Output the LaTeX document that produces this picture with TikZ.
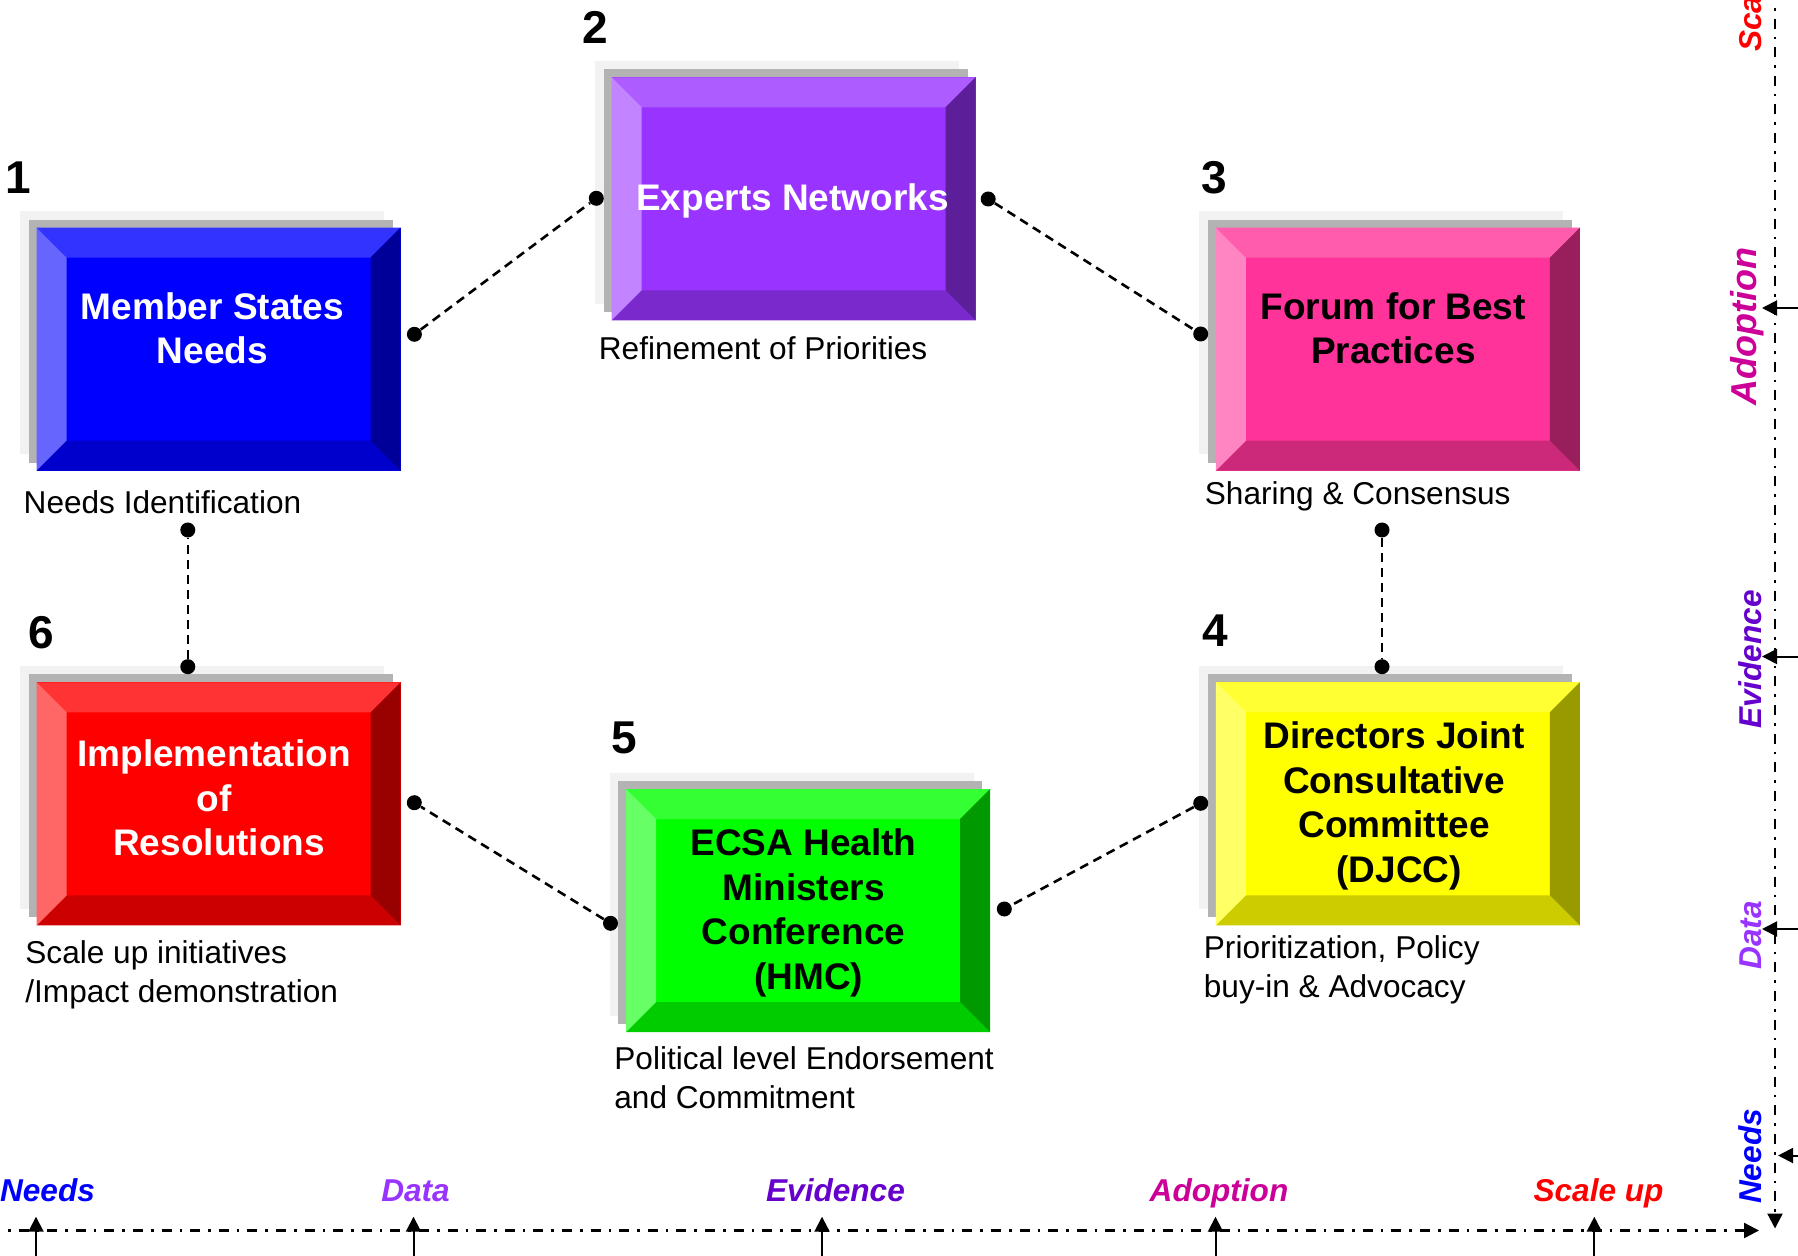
\documentclass[tikz,border=0pt]{standalone}
\usepackage{fontspec}
\setmainfont{Liberation Sans}
\usetikzlibrary{arrows.meta}
\definecolor{cblue}{HTML}{0000FF}
\definecolor{cpurple}{HTML}{9933FF}
\definecolor{cpink}{HTML}{FF3399}
\definecolor{cyellow}{HTML}{FFFF00}
\definecolor{cgreen}{HTML}{00FF00}
\definecolor{cred}{HTML}{FF0000}
\definecolor{shlight}{HTML}{F2F2F2}
\definecolor{shdark}{HTML}{B3B3B3}
\definecolor{levid}{HTML}{6600CC}
\definecolor{ladopt}{HTML}{CC0099}
\newcommand{\bevelbox}[4]{%
  \fill[shlight] ({#2-16.5},{#3-16.3}) rectangle ++(364,243);
  \fill[shdark] ({#2-8},{#3-8}) rectangle ++(364,243);
  \node[boxmain, fill=#4] (#1) at (#2,#3) {};
  \fill[#4!80!white] (#2,#3) -- ++(364,0) -- ++(-30,30) -- ++(-304,0) -- cycle;
  \fill[#4!80!black] (#2,{#3+243}) -- ++(364,0) -- ++(-30,-30) -- ++(-304,0) -- cycle;
  \fill[#4!60!white] (#2,#3) -- ++(30,30) -- ++(0,183) -- ++(-30,30) -- cycle;
  \fill[#4!60!black] ({#2+364},#3) -- ++(-30,30) -- ++(0,183) -- ++(30,30) -- cycle;
}
\begin{document}
\begin{tikzpicture}[x=0.5pt,y=-0.5pt,
  boxmain/.style={rectangle,minimum width=182pt,minimum height=121.5pt,inner sep=0pt,outer sep=0pt,anchor=north west},
  boxtxt/.style={font=\fontsize{18.5pt}{22.25pt}\selectfont\bfseries,align=center,inner sep=0pt},
  num/.style={font=\fontsize{23pt}{27pt}\selectfont\bfseries,anchor=base west,inner sep=0pt},
  lab/.style={font=\fontsize{15.8pt}{19.25pt}\selectfont,align=left,anchor=north west,inner sep=0pt},
  axlab/.style={font=\fontsize{15.8pt}{19pt}\selectfont\bfseries\itshape,anchor=base,inner sep=0pt},
  connDot/.style={circle,fill=black,inner sep=0pt,minimum size=7.5pt},
  conn/.style={line width=1.3pt,dash pattern=on 4.5pt off 3pt},
  axisline/.style={line width=1.2pt,dash pattern=on 5pt off 4pt on 1.3pt off 4pt},
  axisend/.style={axisline,-{Triangle[length=7.5pt,width=7.5pt]}},
  markarrow/.style={line width=1pt,-{Triangle[length=7.5pt,width=7.5pt]}}
]
\useasboundingbox (0,0) rectangle (1798,1256);
\clip (0,0) rectangle (1798,1256);
\fill[white] (0,0) rectangle (1798,1256);

% boxes
\bevelbox{b1}{36.5}{227.7}{cblue}
\bevelbox{b2}{611.6}{77.3}{cpurple}
\bevelbox{b3}{1215.8}{227.7}{cpink}
\bevelbox{b4}{1215.8}{682.3}{cyellow}
\bevelbox{b5}{626}{789}{cgreen}
\bevelbox{b6}{36.7}{682.3}{cred}

% box texts
\node[boxtxt,text=white] (t1) at (212.5,332.7) {Member States\strut\\Needs\strut};
\node[boxtxt,text=white] (t2) at (792.5,201.4) {Experts Networks\strut};
\node[boxtxt] (t3) at (1393.3,332.7) {Forum for Best\strut\\Practices\strut};
\node[boxtxt] (t4) at (1394,806.7) {Directors Joint\strut\\Consultative\strut\\Committee\strut\\\ (DJCC)\strut};
\node[boxtxt] (t5) at (803.5,913.7) {ECSA Health\strut\\Ministers\strut\\Conference\strut\\\ (HMC)\strut};
\node[boxtxt,text=white] (t6) at (214,802.2) {Implementation\strut\\of\strut\\\ Resolutions\strut};

% numbers
\node[num] (n1) at (5,193.3) {1};
\node[num] (n2) at (582,43.3) {2};
\node[num] (n3) at (1201.3,193.3) {3};
\node[num] (n4) at (1202,646.7) {4};
\node[num] (n5) at (611.4,753.3) {5};
\node[num] (n6) at (28.3,648.3) {6};

% labels under boxes
\node[lab] (l1) at (23.3,486.4) {Needs Identification\strut};
\node[lab] (l2) at (598.5,332.4) {Refinement of Priorities\strut};
\node[lab] (l3) at (1204.5,477.1) {Sharing \& Consensus\strut};
\node[lab] (l4) at (1203.5,931.4) {Prioritization, Policy\strut\\buy-in \& Advocacy\strut};
\node[lab] (l5) at (614,1042.4) {Political level Endorsement\strut\\and Commitment\strut};
\node[lab] (l6) at (25,936.4) {Scale up initiatives\strut\\/Impact demonstration\strut};

% connector dots
\node[connDot] (d1r) at (414.4,334.3) {};
\node[connDot] (d2l) at (596.3,198.3) {};
\node[connDot] (d2r) at (988.2,199) {};
\node[connDot] (d3l) at (1200.7,334) {};
\node[connDot] (d3b) at (1382,530) {};
\node[connDot] (d4t) at (1382,666.7) {};
\node[connDot] (d4l) at (1200.7,803.3) {};
\node[connDot] (d5r) at (1004.3,909) {};
\node[connDot] (d5l) at (610.5,923.3) {};
\node[connDot] (d6r) at (414.3,802.7) {};
\node[connDot] (d6t) at (187.8,666.7) {};
\node[connDot] (d1b) at (187.8,530) {};

\draw[conn] (d1r) -- (d2l);
\draw[conn] (d2r) -- (d3l);
\draw[conn] (d3b) -- (d4t);
\draw[conn] (d4l) -- (d5r);
\draw[conn] (d5l) -- (d6r);
\draw[conn] (d6t) -- (d1b);

% axes
\coordinate (hax0) at (-10,1230.5);
\coordinate (hax1) at (1759,1230.5);
\coordinate (vax0) at (1775,-10);
\coordinate (vax1) at (1775,1228.5);
\draw[axisend] (hax0) -- (hax1);
\draw[axisend] (vax0) -- (vax1);

% up arrows on horizontal axis
\foreach \nm/\xx in {ua1/36,ua2/413.5,ua3/822,ua4/1215.5,ua5/1594.3}{
  \coordinate (\nm b) at (\xx,1265);
  \coordinate (\nm t) at (\xx,1216.7);
  \draw[markarrow] (\nm b) -- (\nm t);
}
% left arrows on vertical axis
\foreach \nm/\yy/\tip in {la1/308/1762,la2/656.5/1762,la3/929/1762,la4/1155.5/1778}{
  \coordinate (\nm b) at (1805,\yy);
  \coordinate (\nm t) at (\tip,\yy);
  \draw[markarrow] (\nm b) -- (\nm t);
}

% horizontal axis labels
\node[axlab,text=cblue] (hneeds) at (47.5,1201.7) {Needs};
\node[axlab,text=cpurple] (hdata) at (415.5,1201.7) {Data};
\node[axlab,text=levid] (hevid) at (835.5,1201.7) {Evidence};
\node[axlab,text=ladopt] (hadopt) at (1219,1201.7) {Adoption};
\node[axlab,text=cred] (hscale) at (1598.5,1201.7) {Scale up};

% vertical axis labels
\node[axlab,text=cred,rotate=90] (vscale) at (1761,-13) {Scale up};
\node[axlab,text=ladopt,rotate=90,font=\fontsize{18pt}{21pt}\selectfont\bfseries\itshape] (vadopt) at (1756,326.5) {Adoption};
\node[axlab,text=levid,rotate=90] (vevid) at (1761,659.5) {Evidence};
\node[axlab,text=cpurple,rotate=90] (vdata) at (1761,935.5) {Data};
\node[axlab,text=cblue,rotate=90] (vneeds) at (1761,1156.5) {Needs};
\end{tikzpicture}
\end{document}
